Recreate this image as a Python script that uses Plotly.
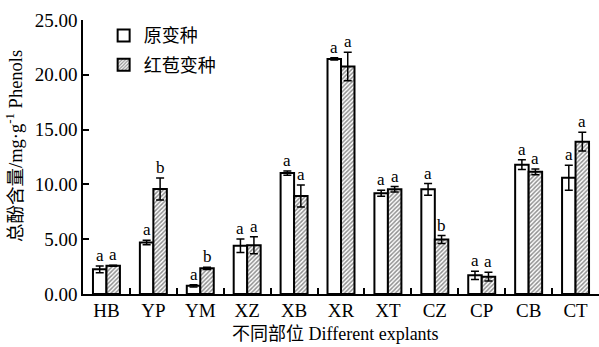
import plotly.graph_objects as go

categories = ["HB", "YP", "YM", "XZ", "XB", "XR", "XT", "CZ", "CP", "CB", "CT"]
orig_vals = [2.25, 4.7, 0.75, 4.4, 11.03, 21.45, 9.2, 9.55, 1.7, 11.8, 10.6]
orig_err = [0.3, 0.2, 0.1, 0.62, 0.2, 0.1, 0.27, 0.53, 0.38, 0.45, 1.14]
red_vals = [2.58, 9.58, 2.34, 4.45, 8.94, 20.75, 9.55, 4.97, 1.58, 11.15, 13.9]
red_err = [0.05, 1.0, 0.1, 0.78, 1.0, 1.3, 0.25, 0.36, 0.4, 0.26, 0.85]
orig_letters = ["a", "a", "a", "a", "a", "a", "a", "a", "a", "a", "a"]
red_letters = ["a", "b", "b", "a", "a", "a", "a", "b", "a", "a", "a"]
series_names = ["原变种", "红苞变种"]
y_ticks = [0, 5, 10, 15, 20, 25]
x_title = "不同部位 Different explants"
y_title = "总酚含量/mg·g<sup>-1</sup> Phenols"

serif = "Liberation Serif, Times New Roman, Noto Sans CJK SC, serif"
cjk = "Noto Sans CJK SC, Liberation Serif, serif"

fig = go.Figure()
fig.add_trace(go.Bar(
    x=categories, y=orig_vals, name=series_names[0], legendgroup="g1",
    marker=dict(color="white", line=dict(color="black", width=2)),
    error_y=dict(type="data", array=orig_err, visible=True, color="black", thickness=1.5, width=4),
))
fig.add_trace(go.Bar(
    x=categories, y=red_vals, name=series_names[1], legendgroup="g2",
    marker=dict(color="white", line=dict(color="black", width=2),
                pattern=dict(shape="/", fgcolor="#222222", bgcolor="white", size=3, solidity=0.5)),
    error_y=dict(type="data", array=red_err, visible=True, color="black", thickness=1.5, width=4),
))

off = 0.575 / 4
annotations = []
for i in range(len(categories)):
    annotations.append(dict(x=i - off, y=orig_vals[i] + orig_err[i], text=orig_letters[i],
                            showarrow=False, yanchor="bottom", xanchor="center", yshift=-1,
                            font=dict(family=serif, size=17, color="black")))
    annotations.append(dict(x=i + off, y=red_vals[i] + red_err[i], text=red_letters[i],
                            showarrow=False, yanchor="bottom", xanchor="center", yshift=-1,
                            font=dict(family=serif, size=17, color="black")))

annotations.append(dict(xref="paper", yref="paper", x=(335 - 83) / 516, y=-(334 - 294) / 274,
                        text=x_title, showarrow=False, xanchor="center", yanchor="middle",
                        font=dict(family=serif, size=18, color="black")))
annotations.append(dict(xref="paper", yref="paper", x=-(83 - 14) / 516, y=(294 - 146) / 274,
                        text=y_title, showarrow=False, xanchor="center", yanchor="middle", textangle=-90,
                        font=dict(family=serif, size=18.5, color="black")))

fig.update_layout(
    width=599, height=347,
    margin=dict(l=83, r=0, t=20, b=53, autoexpand=False),
    plot_bgcolor="white", paper_bgcolor="white",
    barmode="group", bargap=0.425, bargroupgap=0,
    showlegend=True,
    legend=dict(x=0.04, y=1.01, xanchor="left", yanchor="top",
                font=dict(family=cjk, size=18, color="black"),
                bgcolor="rgba(0,0,0,0)", tracegroupgap=3, itemwidth=30),
    annotations=annotations,
    font=dict(family=serif, color="black"),
)
fig.update_xaxes(
    type="category", range=[-0.5, 10.5], automargin=False,
    showline=True, linecolor="black", linewidth=1.5,
    ticks="inside", tickson="boundaries", ticklen=6, tickwidth=1.5, tickcolor="black",
    tickfont=dict(family=serif, size=19, color="black"), ticklabelstandoff=-2,
    showgrid=False, zeroline=False,
)
fig.update_yaxes(
    range=[0, 25], tickvals=y_ticks, tickformat=".2f", automargin=False,
    showline=True, linecolor="black", linewidth=1.5,
    ticks="inside", ticklen=6, tickwidth=1.5, tickcolor="black",
    tickfont=dict(family=serif, size=19, color="black"),
    showgrid=False, zeroline=False,
)

fig.write_html("out.html", config={"displayModeBar": False},
               post_script="document.body.style.margin='0';document.body.style.overflow='hidden';")
